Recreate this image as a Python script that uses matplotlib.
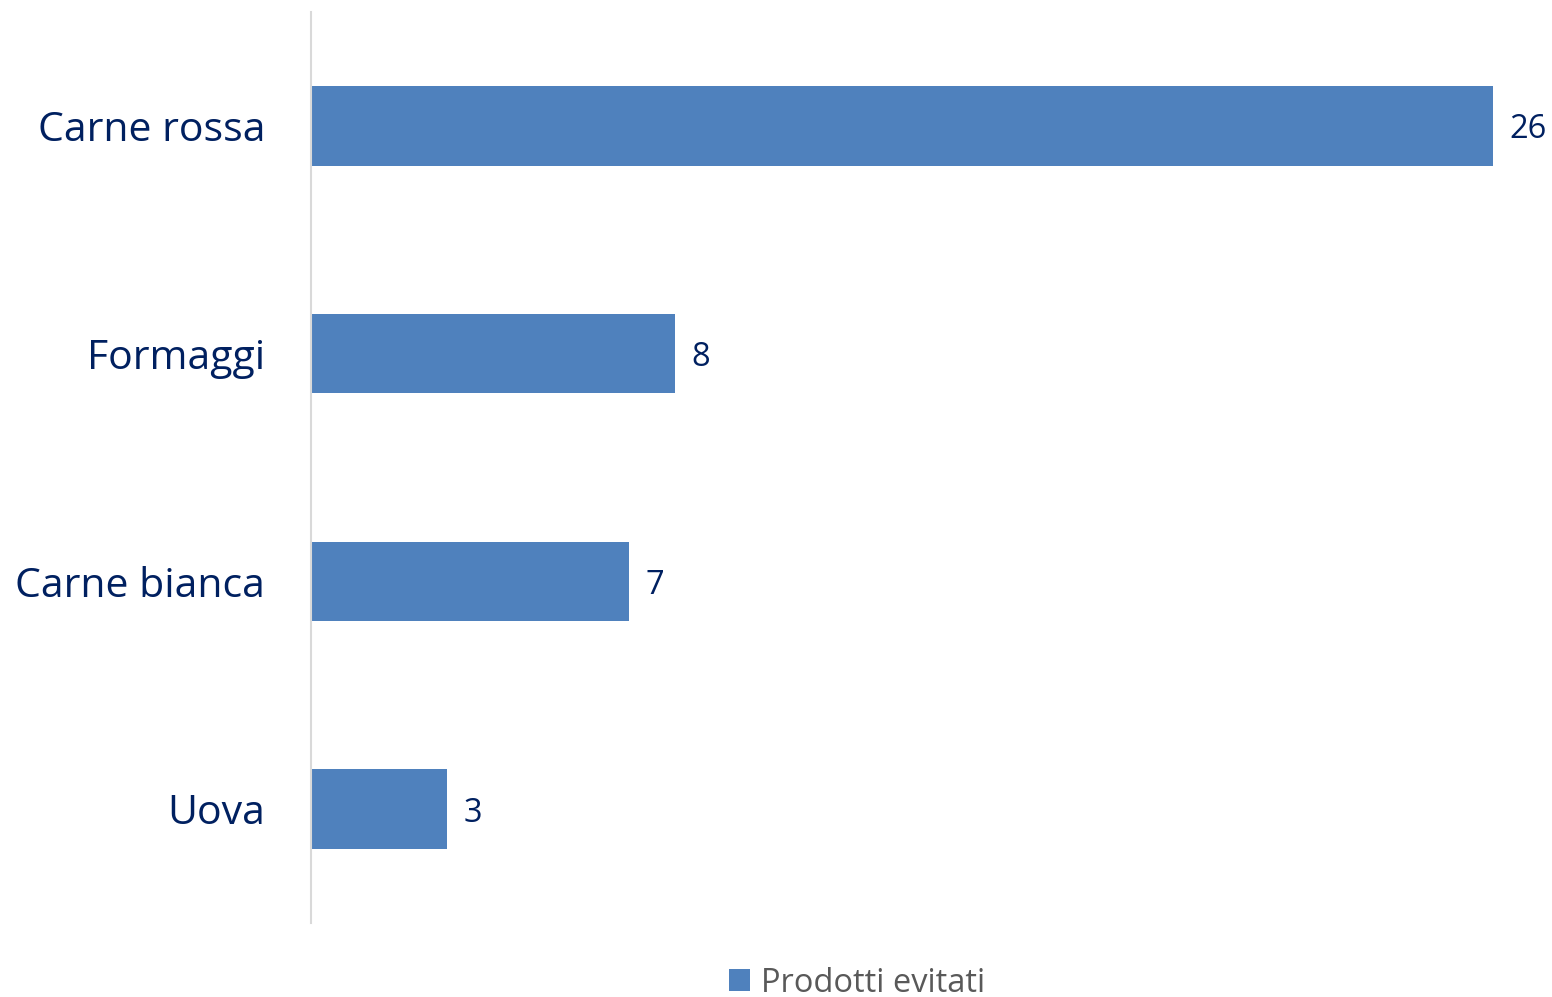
import matplotlib
matplotlib.use("Agg")
import matplotlib.pyplot as plt
from matplotlib.patches import Patch

categories = ["Carne rossa", "Formaggi", "Carne bianca", "Uova"]
values = [26, 8, 7, 3]
series_name = "Prodotti evitati"

bar_color = "#4F81BD"
text_color = "#002060"
legend_color = "#595959"
font = ["Open Sans", "DejaVu Sans"]

W, H = 1552, 997
fig = plt.figure(figsize=(W / 100, H / 100), dpi=100)
left, right, top, bottom = 311, 1493, 12, 923
ax = fig.add_axes([left / W, 1 - bottom / H, (right - left) / W, (bottom - top) / H])

ypos = list(range(len(categories)))
ax.barh(ypos, values, height=0.35, color=bar_color, zorder=2)
ax.set_xlim(0, 26)
ax.set_ylim(len(categories) - 0.5, -0.5)
ax.set_yticks(ypos)
ax.set_yticklabels(categories, fontsize=29.5, color=text_color, family=font)
ax.tick_params(axis="y", length=0, pad=33)
ax.set_xticks([])
for s in ["top", "right", "bottom"]:
    ax.spines[s].set_visible(False)
ax.spines["left"].set_color("#D9D9D9")
ax.spines["left"].set_linewidth(1.5)

for y, v in zip(ypos, values):
    ax.annotate(str(v), xy=(v, y), xytext=(12, 0), textcoords="offset points",
                va="center_baseline", ha="left", fontsize=23.5, color=text_color,
                family=font, weight="medium", annotation_clip=False)

handles = [Patch(facecolor=bar_color, label=series_name)]
leg = fig.legend(handles=handles, loc="center", bbox_to_anchor=(857 / W, 1 - 983 / H),
                 frameon=False, prop={"family": font, "size": 23.5},
                 handlelength=0.65, handleheight=0.65, handletextpad=0.35)
for t in leg.get_texts():
    t.set_color(legend_color)

fig.savefig("out.png", dpi=100, facecolor="white")
